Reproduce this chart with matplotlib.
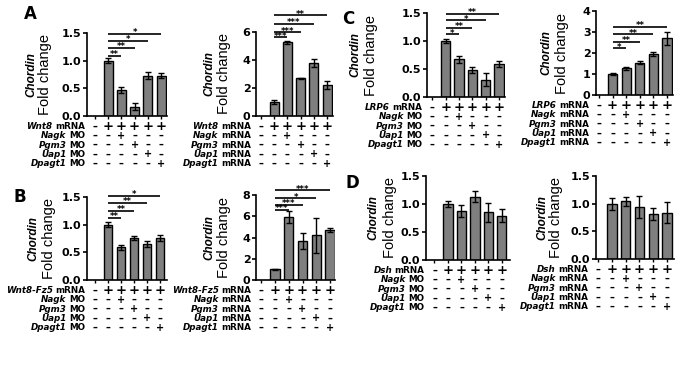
import matplotlib
matplotlib.use("Agg")
import matplotlib.pyplot as plt

# bar values (first slot is the empty control column)
a1_vals = [1.0, 0.47, 0.17, 0.73, 0.73]
a1_err = [0.05, 0.06, 0.07, 0.06, 0.04]
a1_sig = ["**", "**", "*", "*"]
a1_sig_y = [1.09, 1.23, 1.355, 1.49]

a2_vals = [1.0, 5.26, 2.68, 3.78, 2.2]
a2_err = [0.12, 0.1, 0.07, 0.3, 0.28]
a2_sig = ["***", "***", "***", "**"]
a2_sig_y = [5.62, 5.98, 6.58, 7.18]

b1_vals = [1.0, 0.59, 0.76, 0.65, 0.76]
b1_err = [0.05, 0.05, 0.04, 0.06, 0.05]
b1_sig = ["**", "**", "**", "*"]
b1_sig_y = [1.12, 1.25, 1.39, 1.52]

b2_vals = [1.0, 5.96, 3.67, 4.23, 4.7]
b2_err = [0.08, 0.55, 0.72, 1.65, 0.22]
b2_sig = ["***", "***", "*", "***"]
b2_sig_y = [6.6, 7.05, 7.68, 8.46]

c1_vals = [1.0, 0.67, 0.48, 0.31, 0.59]
c1_err = [0.04, 0.06, 0.06, 0.11, 0.05]
c1_sig = ["*", "**", "*", "**"]
c1_sig_y = [1.12, 1.24, 1.37, 1.49]

c2_vals = [1.0, 1.27, 1.54, 1.95, 2.7]
c2_err = [0.04, 0.06, 0.07, 0.09, 0.3]
c2_sig = ["*", "**", "**", "**"]
c2_sig_y = [2.22, 2.54, 2.89, 3.25]

d1_vals = [1.0, 0.87, 1.13, 0.85, 0.79]
d1_err = [0.05, 0.11, 0.1, 0.17, 0.12]

d2_vals = [1.0, 1.04, 0.94, 0.82, 0.84]
d2_err = [0.11, 0.08, 0.2, 0.11, 0.19]

genes = ["Nagk", "Pgm3", "Uap1", "Dpagt1"]

W, H = 698, 372
fig = plt.figure(figsize=(W / 100, H / 100), dpi=100)
renderer = fig.canvas.get_renderer()
PT = 0.72  # points per pixel at 100 dpi


def signs_for(row):
    if row == 0:
        return ["–", "+", "+", "+", "+", "+"]
    return ["+" if j == row + 1 else "–" for j in range(6)]


def panel(box, xl, ymax, yticks, fmt, vals, err, sig, sig_y, first, suffix,
          chordin_x, fold_x):
    x0, x1, y0, y1 = box
    ax = fig.add_axes([x0 / W, 1 - y1 / H, (x1 - x0) / W, (y1 - y0) / H])
    pos = [1, 2, 3, 4, 5]
    ax.bar(pos, vals, width=0.68, color="#7f7f7f", edgecolor="black",
           linewidth=1.0, zorder=2)
    ax.errorbar(pos, vals, yerr=err, fmt="none", ecolor="black",
                elinewidth=1.0, capsize=2, capthick=1.0, zorder=3)
    ax.set_xlim(*xl)
    ax.set_ylim(0, ymax)
    ax.set_yticks(yticks)
    ax.set_yticklabels([fmt % v for v in yticks], fontsize=8,
                       fontweight="bold", family="DejaVu Sans")
    ax.set_xticks(range(6))
    ax.set_xticklabels([])
    ax.tick_params(axis="y", length=3, width=1.2, pad=1)
    ax.tick_params(axis="x", length=2, width=1.0)
    for s in ["top", "right"]:
        ax.spines[s].set_visible(False)
    for s in ["left", "bottom"]:
        ax.spines[s].set_linewidth(1.2)
    ax.set_facecolor("none")

    # significance brackets
    for k, (st, yy) in enumerate(zip(sig, sig_y)):
        ax.plot([1, k + 2], [yy, yy], color="black", lw=1.2,
                clip_on=False, solid_capstyle="butt")
        ax.annotate(st, xy=((1 + k + 2) / 2, yy), xytext=(0, -1.0),
                    textcoords="offset points", ha="center", va="baseline",
                    fontsize=6, fontweight="bold", annotation_clip=False)

    # treatment table under the axis
    names = [first] + genes
    suffixes = ["mRNA"] + [suffix] * 4
    for r in range(5):
        dy = -(10.5 + 9.3 * r) * PT
        for j, s in enumerate(signs_for(r)):
            fs = 9.5 if (r == 0 and s == "+") else 7
            ax.annotate(s, xy=(j, 0), xycoords=("data", "axes fraction"),
                        xytext=(0, dy), textcoords="offset points",
                        ha="center", va="center", fontsize=fs,
                        fontweight="bold", annotation_clip=False)
        t = ax.annotate(suffixes[r], xy=(0, 0),
                        xycoords=("data", "axes fraction"),
                        xytext=(-10 * PT, dy), textcoords="offset points",
                        ha="right", va="center", fontsize=6.3,
                        fontweight="bold", annotation_clip=False)
        w = t.get_window_extent(renderer).width
        ax.annotate(names[r], xy=(0, 0), xycoords=("data", "axes fraction"),
                    xytext=(-(10 + w + 2.5) * PT, dy),
                    textcoords="offset points", ha="right", va="center",
                    fontsize=6.3, fontweight="bold", style="italic",
                    annotation_clip=False)

    cy = 1 - (y0 + y1) / 2 / H
    fig.text(chordin_x / W, cy, "Chordin", rotation=90, ha="center",
             va="center", fontsize=8.5, fontweight="bold", style="italic",
             family="Liberation Sans")
    fig.text(fold_x / W, cy, "Fold change", rotation=90, ha="center",
             va="center", fontsize=10.5, family="Liberation Sans")
    return ax


t15 = [0, 0.5, 1.0, 1.5]
panel((87, 167, 33, 116), (-0.6, 5.45), 1.5, t15, "%.1f",
      a1_vals, a1_err, a1_sig, a1_sig_y, "Wnt8", "MO", 31, 45)
panel((256, 333, 32, 116), (-0.38, 5.45), 6, [0, 2, 4, 6], "%d",
      a2_vals, a2_err, a2_sig, a2_sig_y, "Wnt8", "mRNA", 209, 224)
panel((87, 167, 197, 280), (-0.62, 5.54), 1.5, t15, "%.1f",
      b1_vals, b1_err, b1_sig, b1_sig_y, "Wnt8-Fz5", "MO", 33, 49)
panel((256, 335, 195, 280), (-0.37, 5.35), 8, [0, 2, 4, 6, 8], "%d",
      b2_vals, b2_err, b2_sig, b2_sig_y, "Wnt8-Fz5", "mRNA", 209, 224)
panel((427, 505, 13, 97), (-0.4, 5.45), 1.5, t15, "%.1f",
      c1_vals, c1_err, c1_sig, c1_sig_y, "LRP6", "MO", 355, 371)
panel((596, 673, 11, 95), (-0.22, 5.44), 4, [0, 1, 2, 3, 4], "%d",
      c2_vals, c2_err, c2_sig, c2_sig_y, "LRP6", "mRNA", 546, 562)
panel((426, 510, 176, 260), (-0.63, 5.6), 1.5, t15, "%.1f",
      d1_vals, d1_err, [], [], "Dsh", "MO", 373, 390)
panel((596, 674, 176, 259), (-0.15, 5.5), 1.5, t15, "%.1f",
      d2_vals, d2_err, [], [], "Dsh", "mRNA", 542, 556)

for letter, (px, py) in zip("ABCD", [(30, 14), (20, 197), (348, 19), (352, 183)]):
    fig.text(px / W, 1 - py / H, letter, ha="center", va="center",
             fontsize=12, fontweight="bold")

fig.savefig("out.png", dpi=100)
